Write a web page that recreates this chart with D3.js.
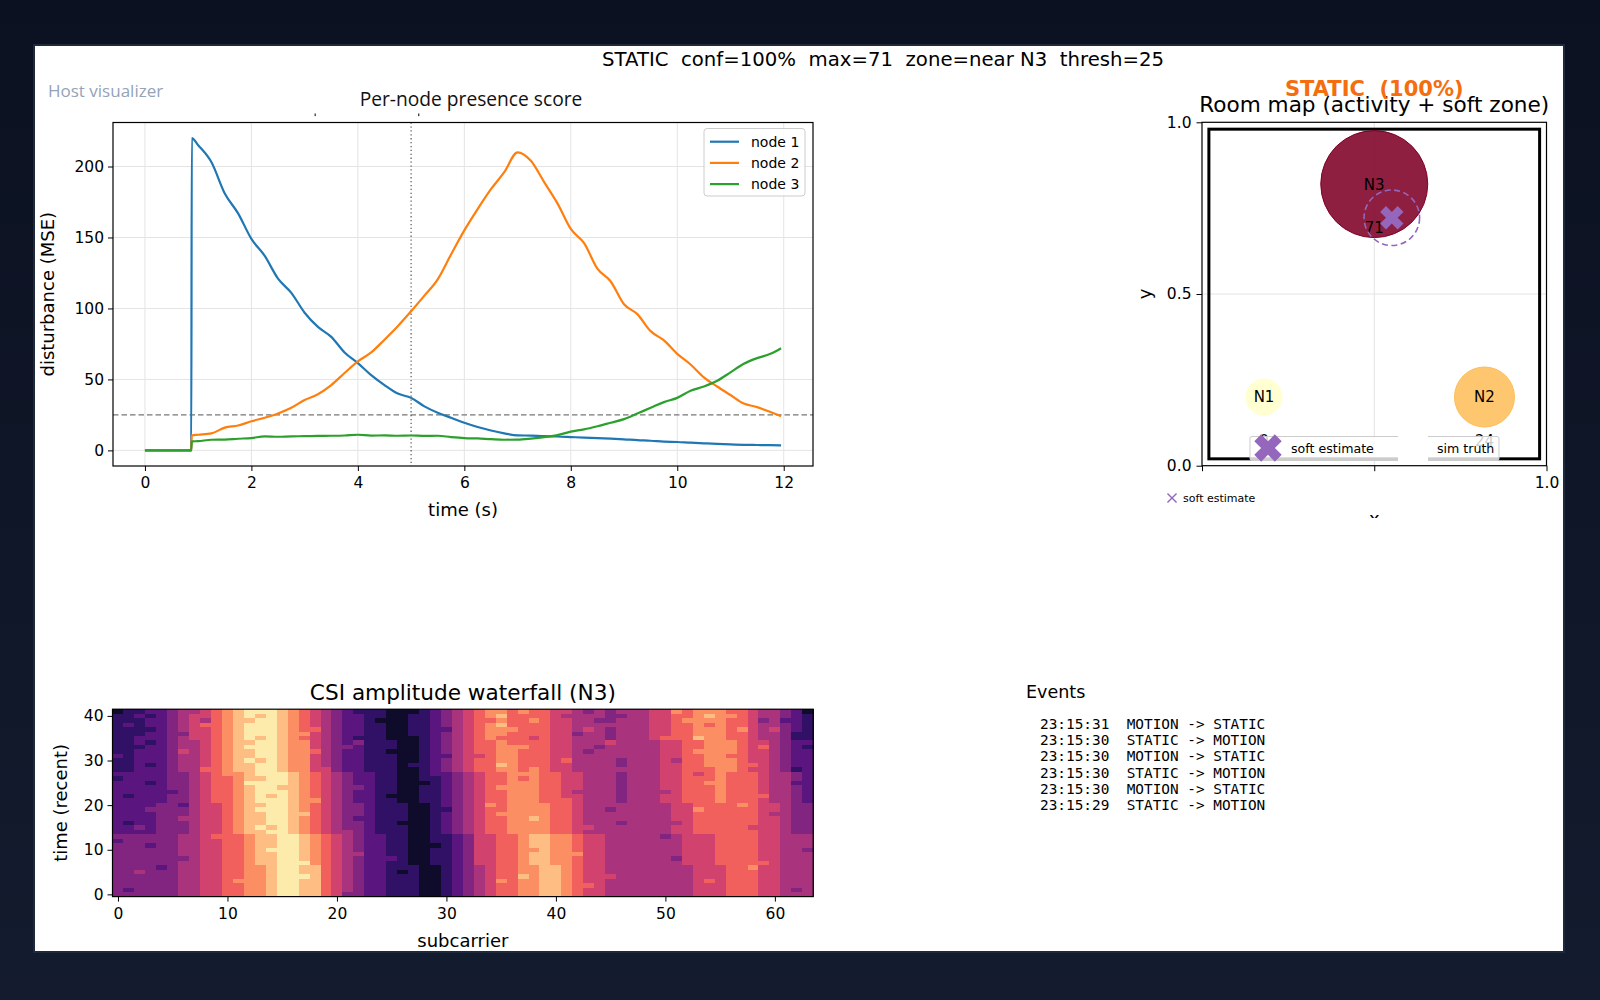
<!DOCTYPE html>
<html>
<head>
<meta charset="utf-8">
<script src="https://cdn.jsdelivr.net/npm/d3@7"></script>
<style>
  html, body { margin: 0; padding: 0; width: 1600px; height: 1000px; overflow: hidden; background: #0b1120; }
  svg { display: block; }
  text { fill: #000; }
  .pre { white-space: pre; }
</style>
</head>
<body>
<svg id="fig" width="1600" height="1000" font-family="DejaVu Sans"></svg>
<script>
// ---------------------------------------------------------------- data
const suptitle = 'STATIC  conf=100%  max=71  zone=near N3  thresh=25';
const stateLabel = 'STATIC  (100%)';

// presence score per node (MSE)
const times = [0, 0.87, 0.88, 1, 1.25, 1.5, 1.75, 2, 2.25, 2.5, 2.75, 3, 3.25, 3.5, 3.75, 4,
  4.25, 4.5, 4.75, 5, 5.25, 5.5, 5.75, 6, 6.25, 6.5, 6.75, 7, 7.25, 7.5, 7.75, 8,
  8.25, 8.5, 8.75, 9, 9.25, 9.5, 9.75, 10, 10.25, 10.5, 10.75, 11, 11.25, 11.5, 11.75, 11.95];
const node1 = [0, 0, 220, 215, 203, 181, 167, 149, 137, 121, 111, 97, 87, 80, 69, 61.5,
  53, 46, 40, 37, 31, 26.5, 23, 19.5, 16.5, 14, 12, 10.6, 10.4, 10, 9.8, 9.4,
  9, 8.7, 8.3, 7.8, 7.2, 6.8, 6.2, 5.9, 5.4, 5, 4.6, 4.2, 3.9, 3.8, 3.7, 3.5];
const node2 = [0, 0, 10.5, 11, 12, 16, 17.5, 20.5, 23, 26, 30, 35.5, 39.5, 46, 54.5, 62.7,
  69, 78, 87.5, 98, 109, 120.5, 138, 155, 170, 184, 196, 210, 204, 189, 174, 156,
  146, 128, 119, 103, 96, 84, 77.5, 68, 60.5, 51.5, 45, 39, 33, 30.5, 27, 24];
const node3 = [0, 0, 6.3, 6.5, 7.5, 7.6, 8.2, 8.7, 9.9, 9.6, 9.9, 10, 10.2, 10.3, 10.5, 11,
  10.4, 10.6, 10.3, 10.5, 10.2, 10.3, 9.4, 8.7, 8.4, 7.9, 7.5, 7.6, 8.3, 9.3, 10.8, 13.2,
  14.8, 17, 19.5, 22, 26, 30, 34, 37, 42, 45, 49, 55, 61, 65, 68, 72];
const seriesNames = ['node 1', 'node 2', 'node 3'];
const threshold = 25;
const cursorTime = 5;
const timeTicks = [0, 2, 4, 6, 8, 10, 12];
const scoreTicks = [0, 50, 100, 150, 200];

// room map
const nodeNames = ['N1', 'N2', 'N3'];
const nodeX = [0.18, 0.82, 0.5];
const nodeY = [0.2, 0.2, 0.82];
const nodeScore = [0, 24, 71];
const softX = 0.551;
const softY = 0.722;
const softSpread = 0.0806;
const roomTicks = [0, 0.5, 1];
const roomTickLabels = ['0.0', '0.5', '1.0'];

// CSI amplitude levels (0-9), one string per frame, newest (t=41) first, 64 subcarriers
const csiRows = [
  '01122344 56789998 76543211 10001234 56776766 55434344 45576777 66544320',
  '11212345 56789898 76543221 10011234 56786666 54444334 45566787 76544321',
  '11122345 46788998 76543221 00011234 56676676 55443344 45567777 66534221',
  '12122345 66789998 76543221 10011234 56786666 55444444 45566767 66544321',
  '11112345 56789998 76643221 10011224 56777666 55454344 45566777 67545321',
  '11122335 56789998 77543221 10011234 56776666 55344344 45566777 66544311',
  '11222345 56789898 76543211 10001234 56766656 55444344 45666877 66544311',
  '11212344 56788998 77543231 11001234 56676666 55444544 44556677 76554322',
  '11122344 56789998 77543321 11001234 56677766 55443444 44556677 76564321',
  '11222354 56788998 77643221 10001234 56677666 55434444 44556777 76554322',
  '21222344 56788998 77543221 11001224 55677666 55444444 44556677 66554322',
  '11222344 56789898 77543221 11001234 56677666 56444434 44546677 76554322',
  '11212344 56788998 77543221 11011234 56687666 55444434 44556677 76654322',
  '11222344 66788998 77553221 11001234 56677676 55444444 44556667 76554312',
  '22222334 56778999 87654322 11001223 45667776 65544434 44556567 66654432',
  '12222334 56678899 87654322 11001123 45667676 65544434 44556667 66654432',
  '22212334 56679999 87654322 11000123 45667776 65544434 44556677 66654422',
  '22222334 56678998 87654332 11001123 45677776 65544434 44556667 66654432',
  '22222234 56678999 87654322 11001123 45667776 65444434 44456667 66654432',
  '21222334 56678989 87654322 10001123 45667776 65544434 44556667 66664432',
  '22222334 56678999 87754322 11001123 45667776 66544434 44556667 66654432',
  '22223324 55678899 87654332 11100123 45767777 66544444 44455666 67655433',
  '22233334 55678999 87654332 11100113 45667777 66544344 44455766 66655433',
  '22223334 55678899 88654332 11100123 45677777 66544444 44455666 66654433',
  '22223344 55678899 87654322 11100123 45667787 66544444 44455666 66655433',
  '21223334 55678899 87654332 11000123 45667777 66544434 44445666 66655433',
  '22323334 55678989 87654332 11100123 45667777 66554444 44455666 66555433',
  '22223334 55678899 87654432 11100123 45667777 66544444 44455666 66655433',
  '33333344 56667889 98765432 21100112 35566788 77655444 44345556 66655444',
  '23333344 55667889 98765432 21100112 35566788 77655444 44445556 66655444',
  '33323344 55667889 98765432 21100012 35566788 77655444 44445556 66655444',
  '33333344 55667899 98765432 21100112 35566778 77655444 44445556 66655443',
  '33333344 55667889 98765442 21100112 35566788 77755444 44445556 66655444',
  '33333334 55667889 98765432 22100112 35566788 77655444 44435556 66655444',
  '33333344 55667889 99765432 21100112 35566788 77655444 44445556 66665444',
  '33332344 55667789 98865432 21110012 34566778 87655444 44444555 66755444',
  '33433344 55667789 98865432 21010012 34566778 87655444 44444555 66655444',
  '33333344 55667789 99865432 21110012 34566878 87655544 44444555 66655444',
  '33333344 55677789 98865432 21110012 34576778 87655444 44444565 66655444',
  '33333344 55667789 98865432 21110012 34566778 87665444 44444555 66655444',
  '32333344 55667789 98865432 21110012 34566778 87655444 44444555 66655434',
  '33333344 55667789 98865332 21110012 34566778 87655444 44444555 66655444',
];
const subTicks = [0, 10, 20, 30, 40, 50, 60];
const frameTicks = [0, 10, 20, 30, 40];

const events = [
  '23:15:31  MOTION -> STATIC',
  '23:15:30  STATIC -> MOTION',
  '23:15:30  MOTION -> STATIC',
  '23:15:30  STATIC -> MOTION',
  '23:15:30  MOTION -> STATIC',
  '23:15:29  STATIC -> MOTION',
];

// ---------------------------------------------------------------- styles
const lineColors = ['#1f77b4', '#ff7f0e', '#2ca02c'];
const purple = '#9467bd';
const gridColor = '#e4e4e4';
const TICK = 15.5, LABEL = 18, TITLE = 21.6;

const svg = d3.select('#fig');
const defs = svg.append('defs');
const bg = defs.append('linearGradient').attr('id', 'bg').attr('x1', 0).attr('y1', 0).attr('x2', 0).attr('y2', 1);
bg.append('stop').attr('offset', '0%').attr('stop-color', '#0b1120');
bg.append('stop').attr('offset', '100%').attr('stop-color', '#131b2e');
svg.append('rect').attr('width', 1600).attr('height', 1000).attr('fill', 'url(#bg)');

// panel
svg.append('rect').attr('x', 34).attr('y', 45).attr('width', 1530).attr('height', 907)
  .attr('fill', '#fff').attr('stroke', '#1e293b').attr('stroke-width', 2);

svg.append('text').attr('x', 48).attr('y', 97).style('font-family', '"Open Sans"')
  .attr('font-size', 17).style('fill', '#94a3b8').text('Host visualizer');

svg.append('text').attr('class', 'pre').attr('x', 883).attr('y', 66)
  .attr('text-anchor', 'middle').attr('font-size', 19.7).text(suptitle);

function styleAxis(g) {
  g.attr('font-family', 'DejaVu Sans').attr('font-size', TICK);
  g.select('.domain').remove();
  g.selectAll('.tick line').attr('stroke', '#000').attr('stroke-width', 1);
  g.selectAll('.tick text').style('fill', '#000');
}

// ---------------------------------------------------------------- presence score
const L = { x0: 113, x1: 813, y0: 122.5, y1: 466 };
const lx = d3.scaleLinear().domain([-0.6, 12.55]).range([L.x0, L.x1]);
const ly = d3.scaleLinear().domain([-11, 231]).range([L.y1, L.y0]);
const gL = svg.append('g');

defs.append('clipPath').attr('id', 'clipL').append('rect')
  .attr('x', L.x0).attr('y', L.y0).attr('width', L.x1 - L.x0).attr('height', L.y1 - L.y0);

gL.selectAll('.gx').data(timeTicks).join('line')
  .attr('x1', d => lx(d)).attr('x2', d => lx(d)).attr('y1', L.y0).attr('y2', L.y1)
  .attr('stroke', gridColor).attr('stroke-width', 1);
gL.selectAll('.gy').data(scoreTicks).join('line')
  .attr('y1', d => ly(d)).attr('y2', d => ly(d)).attr('x1', L.x0).attr('x2', L.x1)
  .attr('stroke', gridColor).attr('stroke-width', 1);

const plotL = gL.append('g').attr('clip-path', 'url(#clipL)');
plotL.append('line').attr('x1', L.x0).attr('x2', L.x1).attr('y1', ly(threshold)).attr('y2', ly(threshold))
  .attr('stroke', '#777').attr('stroke-width', 1.3).attr('stroke-dasharray', '5.5,3');
plotL.append('line').attr('x1', lx(cursorTime)).attr('x2', lx(cursorTime)).attr('y1', L.y0).attr('y2', L.y1)
  .attr('stroke', '#555').attr('stroke-width', 1.2).attr('stroke-dasharray', '1.3,2.6');

const line = d3.line().x((d, i) => lx(times[i])).y(d => ly(d)).curve(d3.curveMonotoneX);
[node1, node2, node3].forEach((s, k) => {
  plotL.append('path').datum(s).attr('d', line).attr('fill', 'none')
    .attr('stroke', lineColors[k]).attr('stroke-width', 2.2).attr('stroke-linejoin', 'round');
});

gL.append('rect').attr('x', L.x0).attr('y', L.y0).attr('width', L.x1 - L.x0).attr('height', L.y1 - L.y0)
  .attr('fill', 'none').attr('stroke', '#000').attr('stroke-width', 1.2);

gL.append('g').attr('transform', `translate(0,${L.y1})`)
  .call(d3.axisBottom(lx).tickValues(timeTicks).tickFormat(d3.format('d')).tickSize(5).tickPadding(6))
  .call(styleAxis);
gL.append('g').attr('transform', `translate(${L.x0},0)`)
  .call(d3.axisLeft(ly).tickValues(scoreTicks).tickFormat(d3.format('d')).tickSize(5).tickPadding(4))
  .call(styleAxis);

gL.append('text').attr('x', (L.x0 + L.x1) / 2).attr('y', 516).attr('text-anchor', 'middle')
  .attr('font-size', LABEL).text('time (s)');
gL.append('text').attr('transform', `translate(54,${(L.y0 + L.y1) / 2}) rotate(-90)`)
  .attr('text-anchor', 'middle').attr('font-size', LABEL).text('disturbance (MSE)');
gL.append('text').attr('x', 471).attr('y', 106).attr('text-anchor', 'middle')
  .style('font-family', '"Open Sans"').attr('font-size', 19.2).style('fill', '#111').text('Per-node presence score');
// stray marks left under the title
gL.selectAll('.stray').data([314.5, 418]).join('rect')
  .attr('x', d => d).attr('y', 113.5).attr('width', 1.4).attr('height', 2.6).attr('fill', '#444');

// legend
const lg = gL.append('g').attr('transform', 'translate(704,128.5)');
lg.append('rect').attr('width', 101).attr('height', 67.5).attr('rx', 3)
  .attr('fill', '#fff').attr('fill-opacity', 0.8).attr('stroke', '#cccccc');
seriesNames.forEach((name, k) => {
  const yy = 13.2 + k * 21.2;
  lg.append('line').attr('x1', 6).attr('x2', 35).attr('y1', yy).attr('y2', yy)
    .attr('stroke', lineColors[k]).attr('stroke-width', 2.2);
  lg.append('text').attr('x', 47).attr('y', yy).attr('dy', '0.36em').attr('font-size', 14).text(name);
});

// ---------------------------------------------------------------- room map
const R = { x0: 1202, x1: 1546.5, y0: 122.3, y1: 465.7 };
const rx = d3.scaleLinear().domain([0, 1]).range([R.x0, R.x1]);
const ry = d3.scaleLinear().domain([0, 1]).range([R.y1, R.y0]);
const gR = svg.append('g');
const maxScore = d3.max(nodeScore);
const rSize = d3.scaleLinear().domain([0, maxScore]).range([18, 53.5]);
const rColor = d3.scaleSequential(d3.interpolateYlOrRd).domain([0, maxScore]);

gR.selectAll('.g').data([0.5]).join('line')
  .attr('x1', d => rx(d)).attr('x2', d => rx(d)).attr('y1', R.y0).attr('y2', R.y1)
  .attr('stroke', gridColor);
gR.selectAll('.h').data([0.5]).join('line')
  .attr('y1', d => ry(d)).attr('y2', d => ry(d)).attr('x1', R.x0).attr('x2', R.x1)
  .attr('stroke', gridColor);

gR.append('rect').attr('x', rx(0.02)).attr('y', ry(0.98))
  .attr('width', rx(0.98) - rx(0.02)).attr('height', ry(0.02) - ry(0.98))
  .attr('fill', 'none').attr('stroke', '#000').attr('stroke-width', 3);

nodeNames.forEach((n, k) => {
  const c = rColor(nodeScore[k]);
  gR.append('circle').attr('cx', rx(nodeX[k])).attr('cy', ry(nodeY[k])).attr('r', rSize(nodeScore[k]))
    .attr('fill', c).attr('fill-opacity', 0.88).attr('stroke', c).attr('stroke-width', 1);
});
nodeNames.forEach((n, k) => {
  gR.append('text').attr('x', rx(nodeX[k])).attr('y', ry(nodeY[k])).attr('dy', '0.36em')
    .attr('text-anchor', 'middle').attr('font-size', 15).text(n);
  gR.append('text').attr('x', rx(nodeX[k])).attr('y', ry(nodeY[k] - 0.128)).attr('dy', '0.36em')
    .attr('text-anchor', 'middle').attr('font-size', 15).text(nodeScore[k]);
});

gR.append('circle').attr('cx', rx(softX)).attr('cy', ry(softY)).attr('r', rx(softSpread) - rx(0))
  .attr('fill', 'none').attr('stroke', purple).attr('stroke-width', 1.6).attr('stroke-dasharray', '6,3.5');
const bigX = d3.symbol().type(d3.symbolCross);
gR.append('path').attr('d', bigX.size(340)())
  .attr('transform', `translate(${rx(softX)},${ry(softY)}) rotate(45)`).attr('fill', purple);

gR.append('rect').attr('x', R.x0).attr('y', R.y0).attr('width', R.x1 - R.x0).attr('height', R.y1 - R.y0)
  .attr('fill', 'none').attr('stroke', '#000').attr('stroke-width', 1.2);

// in-axes legend
const rl = gR.append('g');
rl.append('rect').attr('x', 1250).attr('y', 436.5).attr('width', 249).attr('height', 24).attr('rx', 2)
  .attr('fill', '#fff').attr('fill-opacity', 0.8).attr('stroke', '#cccccc');
rl.append('rect').attr('x', 1398).attr('y', 434).attr('width', 30).attr('height', 29).attr('fill', '#fff');
rl.append('path').attr('d', bigX.size(470)())
  .attr('transform', 'translate(1268,448) rotate(45)').attr('fill', purple);
rl.append('text').attr('x', 1291).attr('y', 448.5).attr('dy', '0.36em').attr('font-size', 12.6).text('soft estimate');
rl.append('text').attr('x', 1437).attr('y', 448.5).attr('dy', '0.36em').attr('font-size', 12.6).text('sim truth');

gR.append('g').attr('transform', `translate(0,${R.y1})`)
  .call(d3.axisBottom(rx).tickValues(roomTicks).tickFormat((d, i) => i === 2 ? roomTickLabels[i] : '')
    .tickSize(5.5).tickPadding(6))
  .call(styleAxis);
gR.append('g').attr('transform', `translate(${R.x0},0)`)
  .call(d3.axisLeft(ry).tickValues(roomTicks).tickFormat((d, i) => roomTickLabels[i]).tickSize(5.5).tickPadding(5))
  .call(styleAxis);

gR.append('text').attr('transform', `translate(1151,${(R.y0 + R.y1) / 2}) rotate(-90)`)
  .attr('text-anchor', 'middle').attr('font-size', LABEL).text('y');
defs.append('clipPath').attr('id', 'clipX').append('rect')
  .attr('x', 1360).attr('y', 514.5).attr('width', 30).attr('height', 3.5);
gR.append('text').attr('x', rx(0.5)).attr('y', 525).attr('text-anchor', 'middle')
  .attr('font-size', LABEL).attr('clip-path', 'url(#clipX)').text('x');

gR.append('text').attr('x', (R.x0 + R.x1) / 2).attr('y', 112).attr('text-anchor', 'middle')
  .attr('font-size', TITLE).text('Room map (activity + soft zone)');
gR.append('text').attr('class', 'pre').attr('x', (R.x0 + R.x1) / 2).attr('y', 96).attr('text-anchor', 'middle')
  .attr('font-size', 21).attr('font-weight', 'bold').style('fill', '#f46d0e').text(stateLabel);

// small figure legend below the map
gR.append('path').attr('d', d3.symbol().type(d3.symbolX).size(55)())
  .attr('transform', 'translate(1172,498)').attr('fill', 'none').attr('stroke', purple).attr('stroke-width', 1.4);
gR.append('text').attr('x', 1183).attr('y', 502).attr('font-size', 11).text('soft estimate');

// ---------------------------------------------------------------- CSI waterfall
const csiGrid = csiRows.map(r => r.replace(/ /g, '').split('').map(Number));
const nFrames = csiGrid.length;
const nSub = csiGrid[0].length;
const W = { x0: 112.5, x1: 813.2, y0: 709.2, y1: 896.6 };
const wx = d3.scaleLinear().domain([-0.5, nSub - 0.5]).range([W.x0, W.x1]);
const wy = d3.scaleLinear().domain([-0.5, nFrames - 0.5]).range([W.y1, W.y0]);
const magma = d3.scaleSequential(d3.interpolateMagma).domain([-0.8, 9.4]);
const gW = svg.append('g');

const cells = [];
csiGrid.forEach((row, i) => row.forEach((v, c) => cells.push({ t: nFrames - 1 - i, c, v })));
gW.append('g').attr('shape-rendering', 'crispEdges').selectAll('rect').data(cells).join('rect')
  .attr('x', d => wx(d.c - 0.5)).attr('y', d => wy(d.t + 0.5))
  .attr('width', d => wx(d.c + 0.5) - wx(d.c - 0.5) + 0.4)
  .attr('height', d => wy(d.t - 0.5) - wy(d.t + 0.5) + 0.4)
  .attr('fill', d => magma(d.v));

gW.append('rect').attr('x', W.x0).attr('y', W.y0).attr('width', W.x1 - W.x0).attr('height', W.y1 - W.y0)
  .attr('fill', 'none').attr('stroke', '#000').attr('stroke-width', 1.2);
gW.append('g').attr('transform', `translate(0,${W.y1})`)
  .call(d3.axisBottom(wx).tickValues(subTicks).tickSize(5).tickPadding(6)).call(styleAxis);
gW.append('g').attr('transform', `translate(${W.x0},0)`)
  .call(d3.axisLeft(wy).tickValues(frameTicks).tickSize(5).tickPadding(4)).call(styleAxis);

gW.append('text').attr('x', (W.x0 + W.x1) / 2).attr('y', 700).attr('text-anchor', 'middle')
  .attr('font-size', TITLE).text('CSI amplitude waterfall (N3)');
gW.append('text').attr('x', (W.x0 + W.x1) / 2).attr('y', 947).attr('text-anchor', 'middle')
  .attr('font-size', LABEL).text('subcarrier');
gW.append('text').attr('transform', `translate(67,${(W.y0 + W.y1) / 2}) rotate(-90)`)
  .attr('text-anchor', 'middle').attr('font-size', LABEL).text('time (recent)');

// ---------------------------------------------------------------- events
const gE = svg.append('g');
gE.append('text').attr('x', 1026).attr('y', 697.7).attr('font-size', 17.5).text('Events');
gE.selectAll('.ev').data(events).join('text').attr('class', 'pre')
  .attr('x', 1040).attr('y', (d, i) => 729.3 + i * 16.07)
  .style('font-family', '"DejaVu Sans Mono", monospace').attr('font-size', 14.4).text(d => d);
</script>
</body>
</html>
